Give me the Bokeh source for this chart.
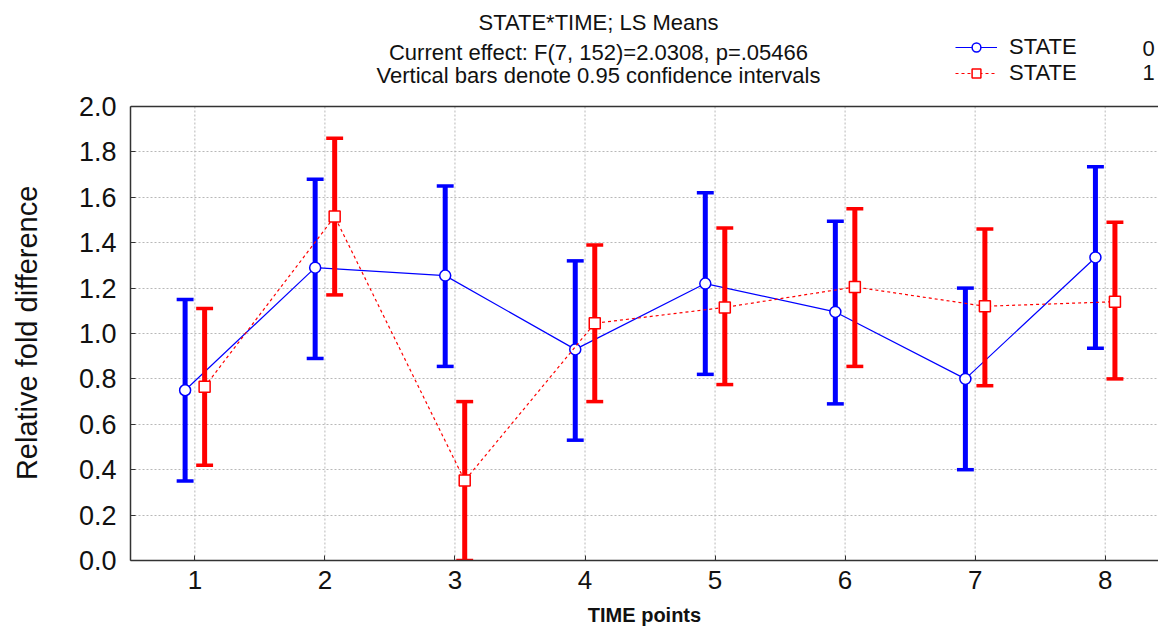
from bokeh.plotting import figure
from bokeh.models import (Range1d, FixedTicker, Label, Legend, LegendItem, Span,
                          NumeralTickFormatter, ColumnDataSource)
from bokeh.embed import file_html
from bokeh.resources import INLINE

# ---------------- data ----------------
time_points = [1, 2, 3, 4, 5, 6, 7, 8]
time_labels = ["1", "2", "3", "4", "5", "6", "7", "8"]
state0_mean = [0.75, 1.29, 1.255, 0.93, 1.22, 1.095, 0.80, 1.335]
state0_lower = [0.35, 0.89, 0.855, 0.53, 0.82, 0.69, 0.40, 0.935]
state0_upper = [1.15, 1.68, 1.65, 1.32, 1.62, 1.495, 1.20, 1.735]
state1_mean = [0.765, 1.515, 0.352, 1.045, 1.115, 1.205, 1.12, 1.14]
state1_lower = [0.42, 1.17, 0.0, 0.70, 0.775, 0.855, 0.77, 0.80]
state1_upper = [1.11, 1.86, 0.70, 1.39, 1.465, 1.55, 1.46, 1.49]
y_ticks = [0.0, 0.2, 0.4, 0.6, 0.8, 1.0, 1.2, 1.4, 1.6, 1.8, 2.0]

title_lines = ["STATE*TIME; LS Means",
               "Current effect: F(7, 152)=2.0308, p=.05466",
               "Vertical bars denote 0.95 confidence intervals"]
y_label = "Relative fold difference"
x_label = "TIME points"
legend_names = ["STATE", "STATE"]
legend_codes = ["0", "1"]

FONT = "Liberation Sans"
BLUE = "#0000ff"
RED = "#ff0000"
GRID = "#b8b8b8"
OFFSET = 0.075
CAP = 0.065

W, H = 1158, 628
LEFT, BOTTOM = 130, 68
AXIS_TOP_PX = 106          # where y = 2.0 sits (from top of figure)
frame_h = H - BOTTOM
y_max = y_ticks[-1] * frame_h / (frame_h - AXIS_TOP_PX)

p = figure(width=W, height=H, output_backend="svg", toolbar_location=None,
           x_range=Range1d(0.505, 8.41), y_range=Range1d(0.0, y_max),
           min_border_left=LEFT, min_border_right=0, min_border_top=0,
           min_border_bottom=BOTTOM)
p.outline_line_color = None
p.background_fill_color = "white"

# grids
p.ygrid.grid_line_color = GRID
p.ygrid.grid_line_dash = "2 2"
p.ygrid.grid_line_width = 1
p.xgrid.visible = False
p.segment(x0=time_points, y0=[y_ticks[0]] * len(time_points),
          x1=time_points, y1=[y_ticks[-1]] * len(time_points),
          line_color=GRID, line_dash="2 2", line_width=1, level="underlay")

# axes
p.xaxis.ticker = FixedTicker(ticks=time_points)
p.xaxis.major_label_overrides = {t: l for t, l in zip(time_points, time_labels)}
p.yaxis.ticker = FixedTicker(ticks=y_ticks)
p.yaxis.formatter = NumeralTickFormatter(format="0.0")
p.yaxis.bounds = (y_ticks[0], y_ticks[-1])
for ax in (p.xaxis, p.yaxis):
    ax.axis_line_color = "#333333"
    ax.axis_line_width = 1.5
    ax.major_tick_in = 5
    ax.major_tick_out = 0
    ax.major_tick_line_color = "#333333"
    ax.minor_tick_line_color = None
    ax.major_label_text_font = FONT
    ax.major_label_text_color = "#111111"
    ax.axis_label_text_font = FONT
    ax.axis_label_text_color = "#111111"
p.yaxis.major_label_text_font_size = "27px"
p.xaxis.major_label_text_font_size = "26px"
p.yaxis.major_label_standoff = 14
p.xaxis.major_label_standoff = 10

p.xaxis.axis_label = x_label
p.xaxis.axis_label_text_font_size = "20px"
p.xaxis.axis_label_text_font_style = "bold"
p.xaxis.axis_label_standoff = 12

# y label: trailing no-break spaces move the visible words down onto the 0-2 span
p.yaxis.axis_label = y_label + "\u00a0" * 13
p.yaxis.axis_label_text_font_size = "29px"
p.yaxis.axis_label_text_font_style = "normal"
p.yaxis.axis_label_standoff = 33

p.add_layout(Span(location=y_ticks[-1], dimension="width", line_color="#333333", line_width=1.5))

def draw_series(xs_base, means, lows, highs, color, dash, marker):
    xs = [x + xs_base for x in time_points]
    src = ColumnDataSource(dict(x=xs, m=means, lo=lows, hi=highs,
                                cl=[x - CAP for x in xs], cr=[x + CAP for x in xs]))
    p.segment(x0="x", y0="lo", x1="x", y1="hi", source=src, line_color=color, line_width=5)
    p.segment(x0="cl", y0="lo", x1="cr", y1="lo", source=src, line_color=color, line_width=3.5)
    p.segment(x0="cl", y0="hi", x1="cr", y1="hi", source=src, line_color=color, line_width=3.5)
    ln = p.line(x="x", y="m", source=src, line_color=color, line_width=1.2, line_dash=dash)
    sc = p.scatter(x="x", y="m", source=src, marker=marker, size=11, fill_color="white",
                   line_color=color, line_width=1.5)
    return ln, sc

l0, s0 = draw_series(-OFFSET, state0_mean, state0_lower, state0_upper, BLUE, "solid", "circle")
l1, s1 = draw_series(OFFSET, state1_mean, state1_lower, state1_upper, RED, "3 3", "square")

legend = Legend(items=[LegendItem(label=legend_names[0], renderers=[l0, s0]),
                       LegendItem(label=legend_names[1], renderers=[l1, s1])],
                location=(825, 474), orientation="vertical")
legend.glyph_width = 42
legend.glyph_height = 22
legend.label_height = 20
legend.label_standoff = 12
legend.spacing = 0
legend.padding = 0
legend.border_line_color = None
legend.background_fill_alpha = 0
legend.label_text_font = FONT
legend.label_text_font_size = "22px"
legend.label_text_color = "#111111"
p.add_layout(legend)

# legend codes
for code, yy in zip(legend_codes, [512, 488]):
    p.add_layout(Label(x=1018, y=yy, x_units="screen", y_units="screen", text=code,
                       text_font=FONT, text_font_size="22px", text_align="center",
                       text_baseline="middle", text_color="#111111"))

# titles
for txt, yy in zip(title_lines, [538, 508, 485]):
    p.add_layout(Label(x=468, y=yy, x_units="screen", y_units="screen", text=txt,
                       text_font=FONT, text_font_size="22px", text_align="center",
                       text_baseline="middle", text_color="#111111"))

open("out.html", "w").write(file_html(p, INLINE))
